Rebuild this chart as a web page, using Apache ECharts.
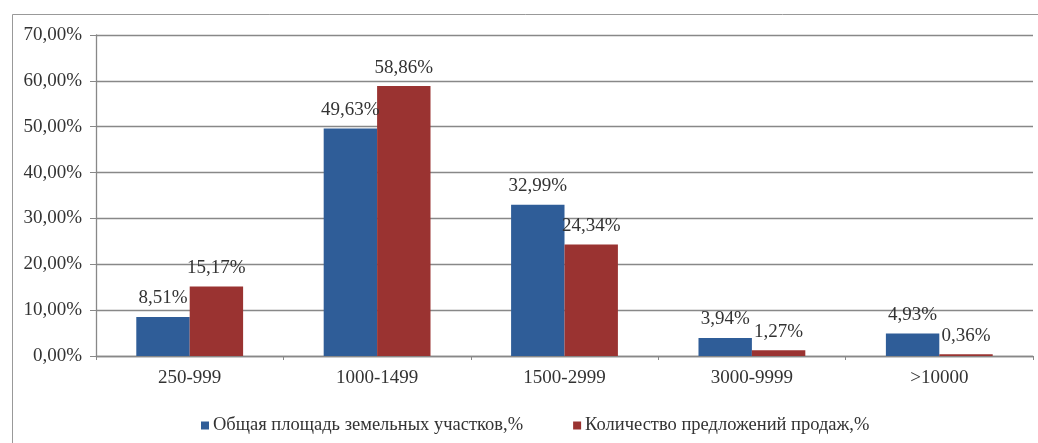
<!DOCTYPE html>
<html><head><meta charset="utf-8">
<script src="https://cdn.jsdelivr.net/npm/echarts@6/dist/echarts.min.js"></script>
<style>html,body{margin:0;padding:0;background:#fff}#c{width:1038px;height:443px}</style>
</head><body><div id="c"></div>
<script>
const categories = ['250-999', '1000-1499', '1500-2999', '3000-9999', '>10000'];
const seriesNames = ['Общая площадь земельных участков,%', 'Количество предложений продаж,%'];
const areaShare = [8.51, 49.63, 32.99, 3.94, 4.93];
const offerShare = [15.17, 58.86, 24.34, 1.27, 0.36];

const fmt = v => v.toFixed(2).replace('.', ',') + '%';
const font = 'Liberation Serif';
const chart = echarts.init(document.getElementById('c'));
chart.setOption({
  animation: false,
  backgroundColor: '#fff',
  graphic: [{type: 'rect', left: 10, top: 12, shape: {width: 1100, height: 500}, style: {fill: 'none', stroke: '#999', lineWidth: 1}}],
  grid: {left: 96, right: 5, top: 35, bottom: 87},
  legend: {
    top: 411, left: 196, itemWidth: 8, itemHeight: 8, itemGap: 50, icon: 'rect',
    textStyle: {fontFamily: font, fontSize: 18.5, color: '#333', padding: [0, 0, 0, -1]},
    data: seriesNames
  },
  xAxis: {
    type: 'category', data: categories,
    axisLine: {lineStyle: {color: '#888', width: 1.3}},
    axisTick: {show: true, alignWithLabel: false, length: 4, lineStyle: {color: '#888'}},
    axisLabel: {fontFamily: font, fontSize: 19, color: '#333', margin: 13}
  },
  yAxis: {
    type: 'value', min: 0, max: 70, interval: 10,
    axisLine: {show: true, lineStyle: {color: '#888', width: 1.3}},
    axisTick: {show: true, length: 6, lineStyle: {color: '#888'}},
    splitLine: {lineStyle: {color: '#888', width: 1.3}},
    axisLabel: {fontFamily: font, fontSize: 19, color: '#333', margin: 14, formatter: v => fmt(v)}
  },
  series: [
    {name: seriesNames[0], type: 'bar', data: areaShare, barGap: '0%', barCategoryGap: '43%',
     itemStyle: {color: '#2f5d98'},
     label: {show: true, position: 'top', distance: 9, fontFamily: font, fontSize: 19, color: '#333', formatter: p => fmt(p.value)}},
    {name: seriesNames[1], type: 'bar', data: offerShare,
     itemStyle: {color: '#9a3331'},
     label: {show: true, position: 'top', distance: 9, fontFamily: font, fontSize: 19, color: '#333', formatter: p => fmt(p.value)}}
  ]
});
</script></body></html>
